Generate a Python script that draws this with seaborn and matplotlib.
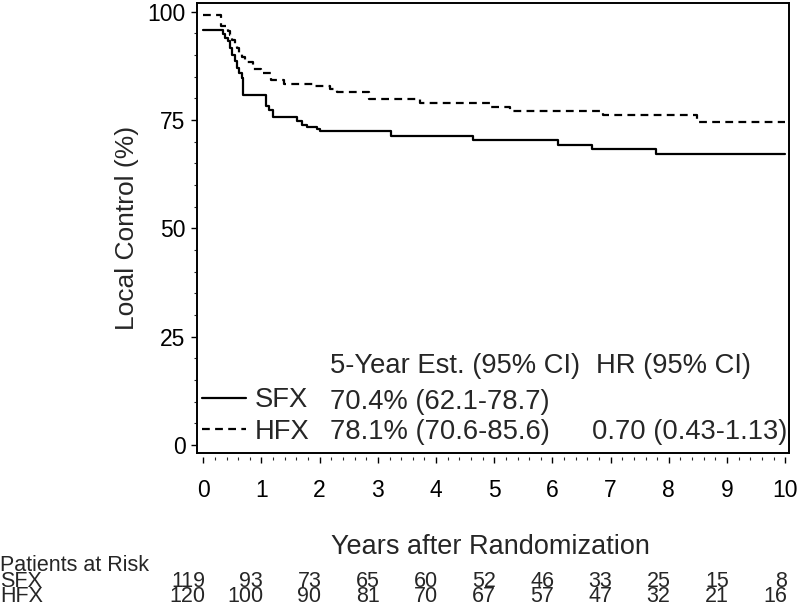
import matplotlib
matplotlib.use("Agg")
import matplotlib.pyplot as plt
import matplotlib.transforms as mtransforms
from matplotlib.ticker import MultipleLocator
import numpy as np
import pandas as pd
import seaborn as sns

# Kaplan-Meier steps (years, local control %)
sfx_time = [0, 0.34, 0.38, 0.42, 0.46, 0.50, 0.54, 0.58, 0.62, 0.66, 0.69, 1.08, 1.13, 1.20,
            1.61, 1.70, 1.78, 1.95, 2.01, 3.22, 4.64, 6.10, 6.68, 7.78, 10.0]
sfx_lc = [95.8, 94.9, 94.0, 93.2, 91.5, 90.0, 88.5, 87.0, 85.8, 84.6, 80.7, 78.1, 77.3, 75.7,
          74.8, 73.9, 73.4, 73.0, 72.4, 71.3, 70.4, 69.3, 68.3, 67.1, 67.1]
hfx_time = [0, 0.30, 0.42, 0.46, 0.50, 0.54, 0.58, 0.62, 0.66, 0.71, 0.86, 1.00, 1.16, 1.38,
            1.92, 2.18, 2.30, 2.84, 3.72, 4.93, 5.27, 6.87, 8.49, 10.0]
hfx_lc = [99.2, 96.6, 95.5, 94.6, 93.5, 92.4, 91.5, 90.5, 89.5, 88.4, 86.7, 85.9, 84.1, 83.3,
          82.8, 82.1, 81.5, 79.9, 79.0, 78.0, 77.1, 76.2, 74.5, 74.5]

arms = ["SFX", "HFX"]
est_5yr = ["70.4% (62.1-78.7)", "78.1% (70.6-85.6)"]
hr_text = "0.70 (0.43-1.13)"

risk_years = list(range(0, 11))
sfx_risk = [119, 93, 73, 65, 60, 52, 46, 33, 25, 15, 8]
hfx_risk = [120, 100, 90, 81, 70, 67, 57, 47, 32, 21, 16]

df = pd.concat([
    pd.DataFrame({"time": sfx_time, "lc": sfx_lc, "arm": "SFX"}),
    pd.DataFrame({"time": hfx_time, "lc": hfx_lc, "arm": "HFX"}),
])

sns.set_style("ticks")
plt.rcParams["font.family"] = ["Liberation Sans", "DejaVu Sans"]
plt.rcParams["axes.linewidth"] = 1.4

fig = plt.figure(figsize=(8, 6.06), dpi=100)
ax = fig.add_axes([0.2459, 0.2525, 0.7407, 0.7421])

sns.lineplot(data=df, x="time", y="lc", style="arm", style_order=arms,
             dashes={"SFX": "", "HFX": (3.5, 2.4)}, color="black",
             drawstyle="steps-post", estimator=None, linewidth=1.6,
             legend=False, ax=ax)

ax.set_xlim(-0.113, 10.07)
ax.set_ylim(-1.85, 101.9)
ax.xaxis.set_major_locator(MultipleLocator(1))
ax.xaxis.set_minor_locator(MultipleLocator(0.2))
ax.yaxis.set_major_locator(MultipleLocator(25))
ax.yaxis.set_minor_locator(MultipleLocator(5))
ax.tick_params(axis="both", which="major", length=4.5, width=1.0, labelsize=16.5,
               colors="black", direction="out")
ax.tick_params(axis="both", which="minor", length=2.5, width=0.8, direction="out")
ax.tick_params(axis="x", pad=11)

# ticks of x axis sit a little below the frame
ax.spines["bottom"].set_position(("outward", 3))
ax.spines["bottom"].set_color("none")
ax.plot([0, 1], [0, 0], transform=ax.transAxes, color="black", lw=1.4, clip_on=False)
for s in ["left", "right", "top"]:
    ax.spines[s].set_color("black")

ax.set_xlabel("")
ax.set_ylabel("Local Control (%)", fontsize=19, labelpad=6)

# legend with estimates
fs = 19.7
leg = ax.legend(ax.get_lines()[:2], arms, loc="upper left",
                bbox_to_anchor=(0.0089, 0.1457), frameon=False, fontsize=fs,
                handlelength=1.6, handletextpad=0.33, labelspacing=0.2,
                borderpad=0, borderaxespad=0)
ax.text(2.18, 18.3, "5-Year Est. (95% CI)", fontsize=fs, va="center")
ax.text(6.75, 18.3, "HR (95% CI)", fontsize=fs, va="center")
ax.text(2.18, 9.9, est_5yr[0], fontsize=fs, va="center")
ax.text(2.18, 3.0, est_5yr[1], fontsize=fs, va="center")
ax.text(10.03, 3.0, hr_text, fontsize=fs, va="center", ha="right")

# x label and number at risk table
trans = mtransforms.blended_transform_factory(ax.transData, fig.transFigure)
fig.text(0.613, 1 - 547 / 606, "Years after Randomization", fontsize=19.5,
         ha="center", va="center")
tfs = 15.5
fig.text(0.0, 1 - 571 / 606, "Patients at Risk", fontsize=tfs, ha="left", va="baseline")
fig.text(0.0, 1 - 587 / 606, "SFX", fontsize=tfs, ha="left", va="baseline")
fig.text(0.0, 1 - 602 / 606, "HFX", fontsize=tfs, ha="left", va="baseline")
for yr, n1, n2 in zip(risk_years, sfx_risk, hfx_risk):
    ax.text(yr + 0.03, 1 - 587 / 606, str(n1), fontsize=tfs, ha="right", va="baseline",
            transform=trans)
    ax.text(yr + 0.03, 1 - 602 / 606, str(n2), fontsize=tfs, ha="right", va="baseline",
            transform=trans)

fig.savefig("out.png", dpi=100)
